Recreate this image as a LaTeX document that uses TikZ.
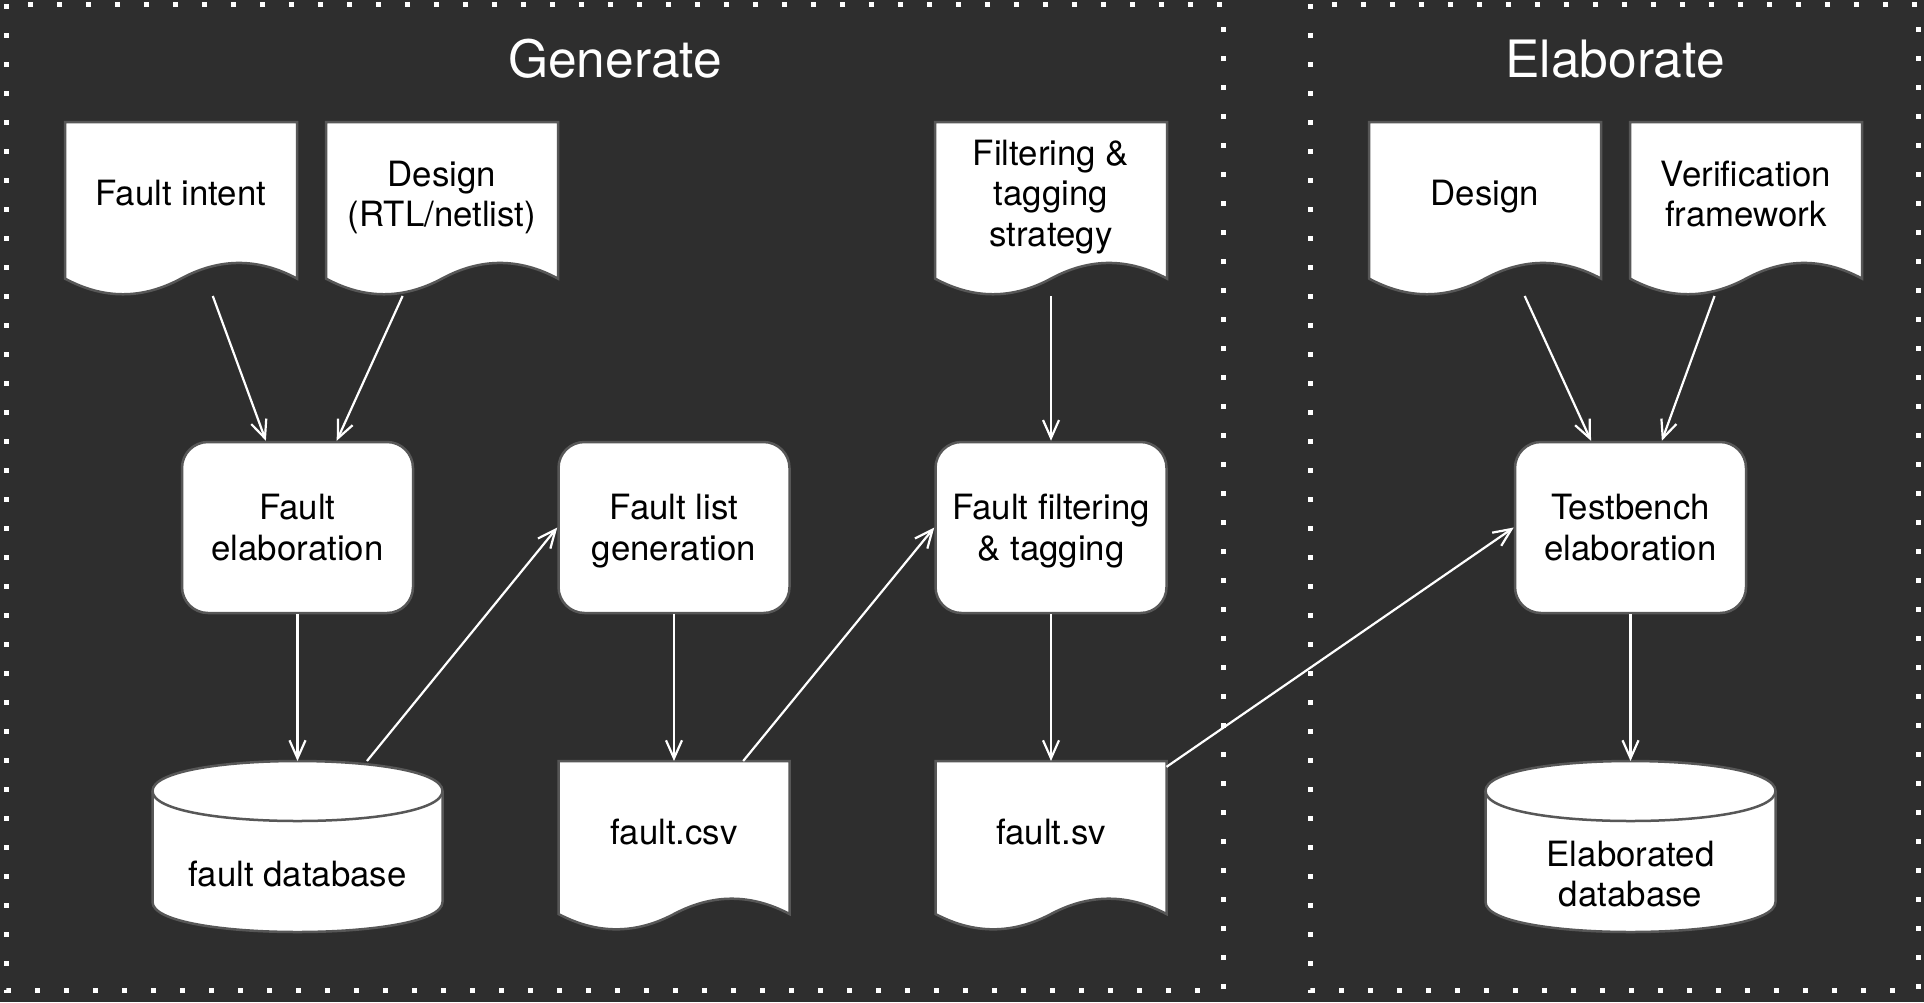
\documentclass[tikz,border=0pt]{standalone}
\usepackage{fontspec}
\setmainfont{TeX Gyre Heros}
\usetikzlibrary{arrows.meta,calc}
\definecolor{canvas}{HTML}{2E2E2E}
\definecolor{rim}{HTML}{575757}
\pgfdeclarelayer{backdrop}
\pgfdeclarelayer{solids}
\pgfsetlayers{backdrop,solids,main}
\newcommand\bdfont{\fontsize{34.8pt}{40.5pt}\selectfont}
\newcommand\hdfont{\fontsize{51.5pt}{60pt}\selectfont}
% paper sheet with a wavy lower edge: node name, width, height
\newcommand\docoutline[3]{%
  \path[solid,shift={(#1.north west)}] (0,0) -- (#2,0) -- (#2,{0.9*#3})
    .. controls ({0.8333*#2},{0.78*#3}) and ({0.6667*#2},{0.78*#3}) .. ({0.5*#2},{0.9*#3})
    .. controls ({0.3333*#2},{1.02*#3}) and ({#2/6},{1.02*#3}) .. (0,{0.9*#3}) -- cycle;}
% database drum: node name, width, height
\newcommand\drumoutline[3]{%
  \path[solid,shift={(#1.north west)}] (0,30) .. controls (0,-10) and (#2,-10) .. (#2,30)
    -- (#2,{#3-30}) .. controls (#2,{#3+10}) and (0,{#3+10}) .. (0,{#3-30}) -- cycle;
  \draw[draw=rim,line width=2.5pt,shift={(#1.north west)}] (0,30) .. controls (0,70) and (#2,70) .. (#2,30);}
\tikzset{
  hold/.style={rectangle, draw=none, inner sep=0pt, outer sep=0pt},
  sheet/.style={hold, minimum width=232pt, minimum height=174pt},
  lowsheet/.style={hold, minimum width=231pt, minimum height=170pt},
  drum/.style={hold, minimum width=290pt, minimum height=171pt},
  % text boxes sized from cap height and line count (baseline sits on the last line),
  % so the given point is the optical centre of the text block
  oneline/.style={text height=25pt, text depth=0pt},
  twoline/.style={text height=65.5pt, text depth=0pt},
  threeline/.style={text height=106pt, text depth=0pt},
  stepbox/.style={rectangle, rounded corners=26pt, draw=rim, line width=2.5pt, fill=white,
    minimum width=231pt, minimum height=171pt, inner sep=0pt, align=center, font=\bdfont, twoline},
  txt/.style={align=center, font=\bdfont, inner sep=0pt, text=black},
  solid/.style={fill=white, draw=rim, line width=2.5pt},
  flow/.style={draw=white, line width=2.2pt, -{Straight Barb[length=18pt,width=16pt]}},
  frame/.style={draw=white, line width=5pt, dash pattern=on 5pt off 24pt},
  heading/.style={text=white, font=\hdfont, inner sep=0pt}
}
\begin{document}
\begin{tikzpicture}[x=1pt,y=-1pt]
\useasboundingbox (0,0) rectangle (1924,1002);
\begin{pgfonlayer}{backdrop}
  \fill[canvas] (0,0) rectangle (1924,1002);
  \draw[frame] (6,4) rectangle (1223,990);
  \draw[frame] (1310,4) rectangle (1918,990);
\end{pgfonlayer}

% section headings
\node[heading] (hgen) at (615,59) {Generate};
\node[heading] (helab) at (1615,59) {Elaborate};

% input sheets
\node[sheet] (fi) at (181,209) {};
\node[sheet] (drtl) at (442,209) {};
\node[sheet] (fts) at (1051,209) {};
\node[sheet] (des) at (1485,209) {};
\node[sheet] (vf) at (1746,209) {};
\node[txt,oneline] (fi-t) at (181,193) {Fault intent};
\node[txt,twoline] (drtl-t) at (442,194) {Design\\(RTL/netlist)};
\node[txt,threeline] (fts-t) at (1051,193) {Filtering \&\\tagging\\strategy};
\node[txt,oneline] (des-t) at (1485,193) {Design};
\node[txt,twoline] (vf-t) at (1746,194) {Verification\\framework};

% processing steps
\node[stepbox] (fe) at (297.5,527.5) {Fault\\elaboration};
\node[stepbox] (flg) at (674,527.5) {Fault list\\generation};
\node[stepbox] (fft) at (1051,527.5) {Fault filtering\\\& tagging};
\node[stepbox] (tbe) at (1630.5,527.5) {Testbench\\elaboration};

% outputs
\node[drum] (fdb) at (297.5,846.5) {};
\node[lowsheet] (csv) at (674,846) {};
\node[lowsheet] (sv) at (1051,846) {};
\node[drum] (edb) at (1630.5,846.5) {};
\node[txt,oneline] (fdb-t) at (297.5,874) {fault database};
\node[txt,oneline] (csv-t) at (674,832) {fault.csv};
\node[txt,oneline] (sv-t) at (1051,832) {fault.sv};
\node[txt,twoline] (edb-t) at (1630.5,874) {Elaborated\\database};

\begin{pgfonlayer}{solids}
  \docoutline{fi}{232}{174}
  \docoutline{drtl}{232}{174}
  \docoutline{fts}{232}{174}
  \docoutline{des}{232}{174}
  \docoutline{vf}{232}{174}
  \docoutline{csv}{231}{170}
  \docoutline{sv}{231}{170}
  \drumoutline{fdb}{290}{171}
  \drumoutline{edb}{290}{171}
\end{pgfonlayer}

% data flow
\draw[flow] (fi) -- (fe);
\draw[flow] (drtl) -- (fe);
\draw[flow] (fe) -- (fdb);
\draw[flow] (fdb) -- (flg.west);
\draw[flow] (flg) -- (csv);
\draw[flow] (csv) -- (fft.west);
\draw[flow] (fts) -- (fft);
\draw[flow] (fft) -- (sv);
\draw[flow] (sv) -- (tbe.west);
\draw[flow] (des) -- (tbe);
\draw[flow] (vf) -- (tbe);
\draw[flow] (tbe) -- (edb);
\end{tikzpicture}
\end{document}
